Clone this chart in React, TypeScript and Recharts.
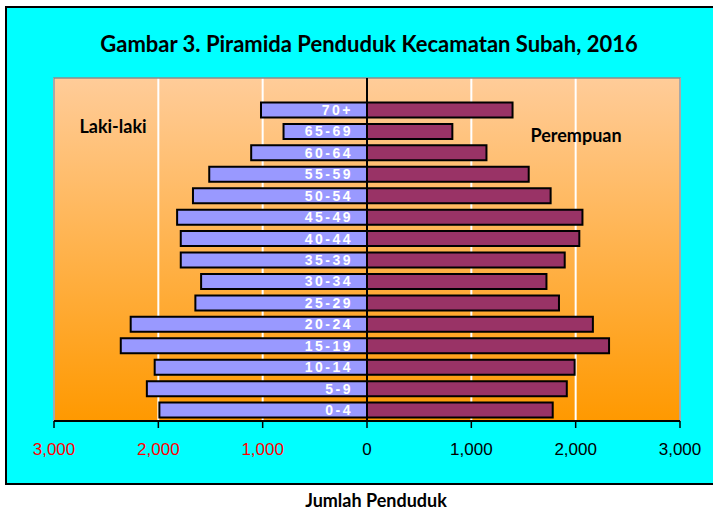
import React from "react";
import {
  BarChart,
  Bar,
  XAxis,
  YAxis,
  CartesianGrid,
  ReferenceLine,
  ReferenceArea,
  LabelList,
} from "recharts";

const ageGroups = ["0-4", "5-9", "10-14", "15-19", "20-24", "25-29", "30-34", "35-39", "40-44", "45-49", "50-54", "55-59", "60-64", "65-69", "70+"];
const maleValues = [1990, 2110, 2035, 2360, 2265, 1645, 1590, 1785, 1785, 1820, 1668, 1512, 1110, 800, 1016];
const femaleValues = [1780, 1915, 1990, 2320, 2165, 1840, 1720, 1895, 2035, 2065, 1760, 1550, 1145, 818, 1395];
const xTicks = [-3000, -2000, -1000, 0, 1000, 2000, 3000];

const title = "Gambar 3. Piramida Penduduk Kecamatan Subah, 2016";
const maleLabel = "Laki-laki";
const femaleLabel = "Perempuan";
const xAxisTitle = "Jumlah Penduduk";

// top spacer row (empty category) followed by the oldest group down to the youngest
const rows = [
  { age: "", male: null as number | null, female: null as number | null },
  ...ageGroups
    .map((a, i) => ({ age: a, male: -maleValues[i], female: femaleValues[i] }))
    .reverse(),
];

const fmt = (v: number) => {
  const s = String(Math.abs(v));
  return s.replace(/\B(?=(\d{3})+(?!\d))/g, ",");
};

const AxisTick = (props: any) => {
  const { x, y, payload } = props;
  return (
    <text
      x={x}
      y={Number(y) + 25}
      textAnchor="middle"
      fontFamily="'Liberation Sans', Arial, sans-serif"
      fontSize={17}
      fill={payload.value < 0 ? "#FF0000" : "#000000"}
    >
      {fmt(payload.value)}
    </text>
  );
};

const AgeLabel = (props: any) => {
  const { x, y, width, height, value } = props;
  if (!value) return null;
  const right = Math.max(Number(x), Number(x) + Number(width));
  return (
    <text
      x={right - 14}
      y={Number(y) + Number(height) / 2}
      dy="0.36em"
      textAnchor="end"
      fill="#FFFFFF"
      fontWeight="bold"
      fontSize={14}
      letterSpacing={2.5}
      fontFamily="'Liberation Sans', Arial, sans-serif"
    >
      {value}
    </text>
  );
};

const textFont = "Lato, 'Open Sans', sans-serif";

const textStyle = (left: number, top: number, size: number): React.CSSProperties => ({
  position: "absolute",
  left,
  top,
  transform: "translate(-50%, -50%)",
  whiteSpace: "nowrap",
  fontFamily: textFont,
  fontWeight: 700,
  fontSize: size,
  lineHeight: 1,
  color: "#000",
});

export default function App() {
  return (
    <div
      style={{
        position: "absolute",
        left: 0,
        top: 0,
        width: 713,
        height: 505,
        background: "#FFFFFF",
      }}
    >
      <div
        style={{
          position: "absolute",
          left: 5,
          top: 6,
          width: 708,
          height: 479,
          boxSizing: "border-box",
          borderTop: "2px solid #000000",
          borderLeft: "2px solid #000000",
          borderBottom: "2px solid #000000",
          background: "#00FFFF",
        }}
      />
      <div style={{ position: "absolute", left: 0, top: 0 }}>
        <BarChart
          width={713}
          height={480}
          data={rows}
          layout="vertical"
          stackOffset="sign"
          barSize={15}
          margin={{ top: 78, left: 54, right: 33, bottom: 29 }}
        >
          <defs>
            <linearGradient id="bgGrad" x1="0" y1="0" x2="0" y2="1">
              <stop offset="0%" stopColor="#FFCC99" />
              <stop offset="100%" stopColor="#FF9900" />
            </linearGradient>
          </defs>
          <CartesianGrid
            horizontal={false}
            stroke="#FFFFFF"
            strokeWidth={2}
            fill="url(#bgGrad)"
            fillOpacity={1}
          />
          <XAxis
            type="number"
            domain={[-3000, 3000]}
            ticks={xTicks}
            interval={0}
            height={30}
            axisLine={{ stroke: "#000000", strokeWidth: 2 }}
            tickLine={{ stroke: "#000000", strokeWidth: 1.5 }}
            tickSize={7}
            tick={<AxisTick />}
          />
          <YAxis type="category" dataKey="age" hide />
          <ReferenceArea
            x1={-3000}
            x2={3000}
            fill="none"
            stroke="#8C8C8C"
            strokeWidth={1.5}
            ifOverflow="extendDomain"
          />
          <Bar
            dataKey="male"
            stackId="pop"
            fill="#9999FF"
            stroke="#000000"
            strokeWidth={2}
            isAnimationActive={false}
          >
            <LabelList dataKey="age" content={<AgeLabel />} />
          </Bar>
          <Bar
            dataKey="female"
            stackId="pop"
            fill="#993366"
            stroke="#000000"
            strokeWidth={2}
            isAnimationActive={false}
          />
          <ReferenceLine x={0} stroke="#000000" strokeWidth={2} />
        </BarChart>
      </div>
      <div style={textStyle(369, 44, 22)}>{title}</div>
      <div style={textStyle(113, 126, 18)}>{maleLabel}</div>
      <div style={textStyle(576, 135, 18)}>{femaleLabel}</div>
      <div style={textStyle(376, 500, 18)}>{xAxisTitle}</div>
    </div>
  );
}
